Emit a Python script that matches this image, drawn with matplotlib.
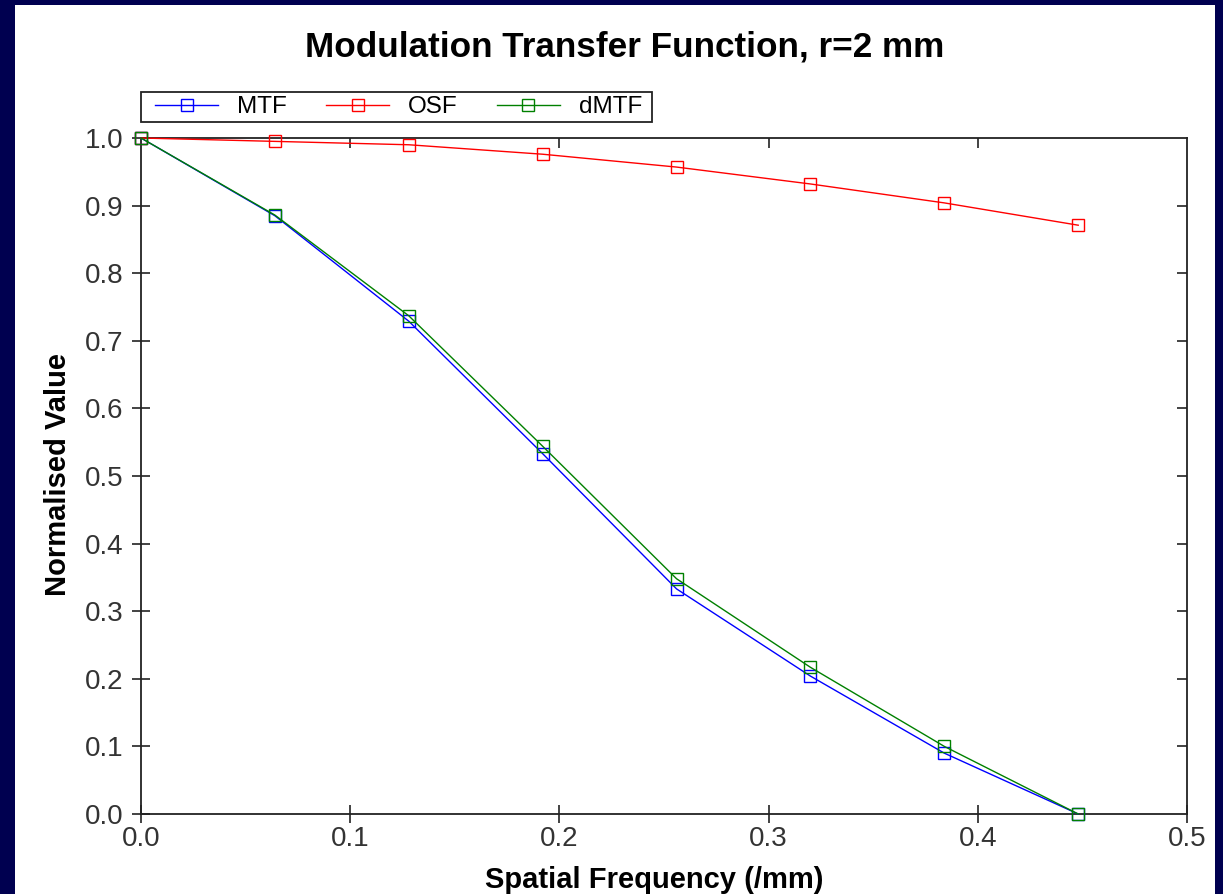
import matplotlib.pyplot as plt
from matplotlib.patches import Rectangle

plt.rcParams['font.family'] = ['Liberation Sans', 'DejaVu Sans']

# spatial frequency samples (/mm)
freq = [0.0, 0.064, 0.128, 0.192, 0.256, 0.320, 0.384, 0.448]

# normalised values
mtf = [1.0, 0.885, 0.729, 0.533, 0.333, 0.204, 0.090, 0.0]
osf = [1.0, 0.995, 0.990, 0.976, 0.957, 0.932, 0.904, 0.871]
dmtf = [1.0, 0.886, 0.737, 0.544, 0.348, 0.217, 0.100, 0.0]

series = [("MTF", mtf, "#0000ff"), ("OSF", osf, "#ff0000"), ("dMTF", dmtf, "#008000")]

W, H = 1223, 894
fig = plt.figure(figsize=(W / 100, H / 100), dpi=100)
fig.patch.set_facecolor("#000050")
# white slide panel
fig.patches.append(Rectangle((15 / W, 0), 1200 / W, (H - 5) / H, transform=fig.transFigure,
                             facecolor="white", edgecolor="none", zorder=-10))

ax = fig.add_axes([141 / W, (H - 814) / H, (1187 - 141) / W, (814 - 138) / H])
ax.set_zorder(1)
ax.set_facecolor("white")
aw, ah = 1187 - 141, 814 - 138

for name, vals, col in series:
    ax.plot(freq, vals, color=col, lw=1.0, marker="s", ms=8, mfc="none", mec=col, mew=1.0,
            label=name, clip_on=False, zorder=3)

ax.set_xlim(0, 0.5)
ax.set_ylim(0, 1.0)
ax.set_xticks([0.0, 0.1, 0.2, 0.3, 0.4, 0.5])
ax.set_xticklabels(["0.0", "0.1", "0.2", "0.3", "0.4", "0.5"])
ax.set_yticks([i / 10 for i in range(11)])
ax.set_yticklabels([f"{i / 10:.1f}" for i in range(11)])

for s in ax.spines.values():
    s.set_linewidth(1.3)
    s.set_color("#222222")

ax.tick_params(direction="inout", length=13, width=1.2, color="#222222",
               labelsize=20, labelcolor="#333333")
ax.tick_params(axis="y", pad=6)
ax.tick_params(axis="x", pad=2)

top = ax.secondary_xaxis("top")
top.set_xticks([0.1, 0.2, 0.3, 0.4])
top.tick_params(direction="in", length=7, width=1.2, color="#222222", labeltop=False)
top.spines["top"].set_visible(False)
right = ax.secondary_yaxis("right")
right.set_yticks([i / 10 for i in range(1, 10)])
right.tick_params(direction="in", length=7, width=1.2, color="#222222", labelright=False)
right.spines["right"].set_visible(False)

ax.set_xlabel("Spatial Frequency (/mm)", fontsize=21, fontweight="bold")
ax.set_ylabel("Normalised Value", fontsize=21, fontweight="bold")
ax.xaxis.set_label_coords((654 - 141) / aw, (814 - 880) / ah)
ax.xaxis.label.set_va("center")
ax.yaxis.set_label_coords((58 - 141) / aw, (814 - 475) / ah)
ax.yaxis.label.set_va("center")

fig.text(625 / W, (H - 47) / H, "Modulation Transfer Function, r=2 mm", fontsize=25.3,
         fontweight="bold", ha="center", va="center")

# legend above the plot, box drawn separately
leg = ax.legend(loc="center left", bbox_to_anchor=((155 - 141) / aw, (814 - 107) / ah),
                ncol=3, fontsize=17.5, frameon=False, borderaxespad=0, borderpad=0,
                handlelength=2.6, handletextpad=0.78, columnspacing=1.6)
ax.add_patch(Rectangle((0, (814 - 122) / ah), (652 - 141) / aw, 30 / ah, transform=ax.transAxes,
                       facecolor="white", edgecolor="#222222", lw=1.3, clip_on=False, zorder=2))

fig.savefig("out.png", dpi=100, facecolor=fig.get_facecolor())
